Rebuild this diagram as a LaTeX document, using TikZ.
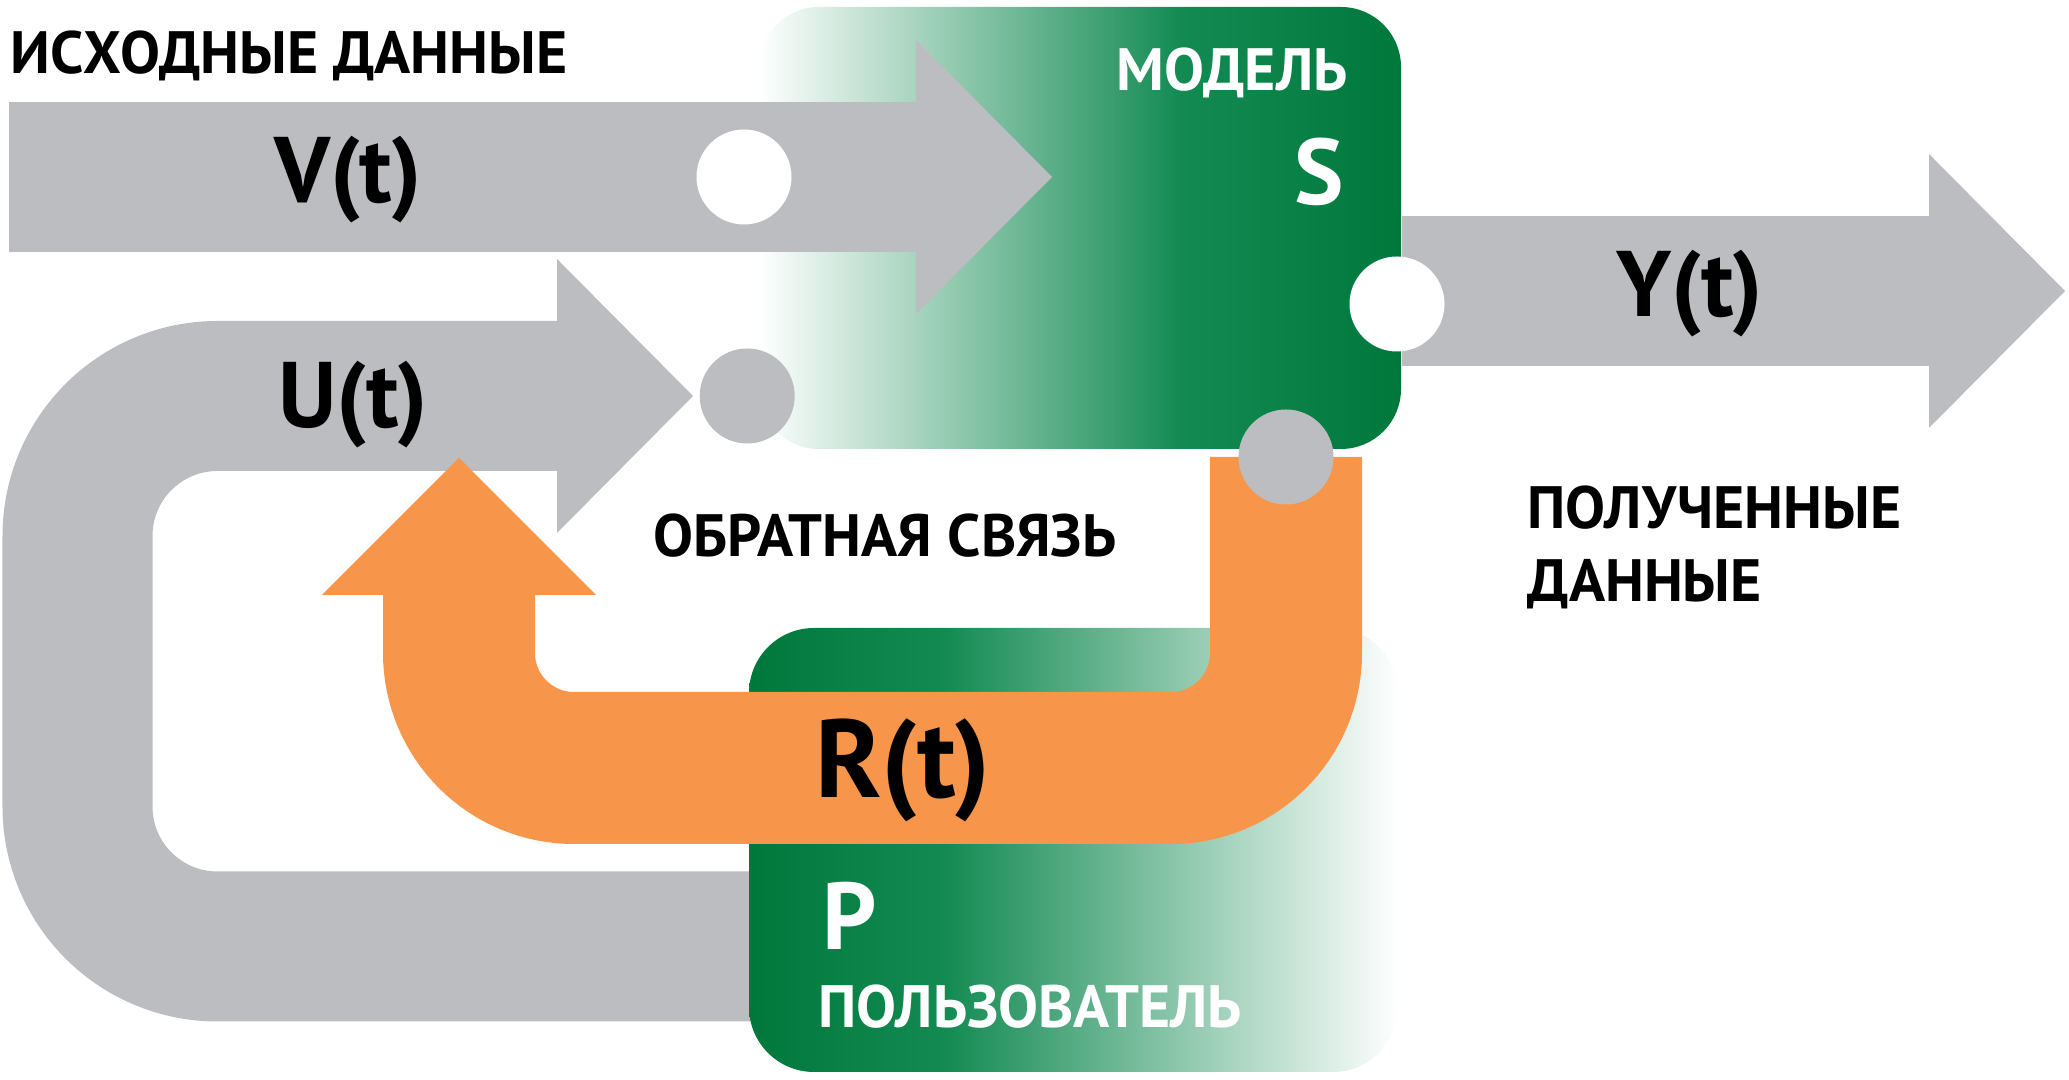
\documentclass[tikz,border=0pt]{standalone}
\usepackage{fontspec}
\setmainfont{PT Sans}
\usepackage{tikz}
\usetikzlibrary{arrows.meta,positioning}

\definecolor{dkgreen}{RGB}{0,120,60}
\definecolor{mgreen}{RGB}{18,138,82}
\definecolor{bargray}{RGB}{188,189,192}
\definecolor{fborange}{RGB}{247,150,74}

\pgfdeclarehorizontalshading{modelfade}{100bp}{color(0bp)=(white); color(25bp)=(white); color(58bp)=(mgreen); color(75bp)=(dkgreen); color(100bp)=(dkgreen)}
\pgfdeclarehorizontalshading{userfade}{100bp}{color(0bp)=(dkgreen); color(25bp)=(dkgreen); color(40bp)=(mgreen); color(75bp)=(white); color(100bp)=(white)}

\tikzset{
  graybar/.style={line width=1.5cm, draw=bargray, -{Triangle[length=1.36cm,width=2.74cm,line width=0pt]}},
  orangebar/.style={line width=1.52cm, draw=fborange, -{Triangle[length=1.37cm,width=2.74cm,line width=0pt]}},
  port/.style={circle, fill=white, minimum size=0.95cm, inner sep=0pt},
  modelbox/.style={rectangle, rounded corners=0.6cm, shading=modelfade, minimum width=6.42cm, minimum height=4.42cm},
  userbox/.style={rectangle, rounded corners=0.65cm, shading=userfade, minimum width=6.49cm, minimum height=4.44cm},
  lbl/.style={inner sep=0pt, font=\fontsize{17}{20}\selectfont\bfseries},
  biglbl/.style={inner sep=0pt, font=\fontsize{26.5}{31}\selectfont\bfseries},
  boxlbl/.style={lbl, text=white},
  boxbig/.style={biglbl, text=white}
}

\begin{document}
\begin{tikzpicture}
	\useasboundingbox (0,0) rectangle (20.69,10.80);

	% model S
	\node[modelbox] (model) at (10.80,8.52) {};

	% input V(t)
	\coordinate (vsrc) at (0.09,9.03);
	\coordinate (vtip) at (10.52,9.03);
	\draw[graybar] (vsrc) -- (vtip);
	\node[port] (vin) at (7.44,9.03) {};

	% output Y(t)
	\coordinate (ytip) at (20.65,7.89);
	\draw[graybar] (model.east |- ytip) -- (ytip);
	\node[port] (yout) at (13.97,7.76) {};

	% control U(t)
	\coordinate (usrc) at (9.00,1.335);
	\coordinate (utip) at (6.93,6.84);
	\draw[graybar, rounded corners=1.4cm] (usrc) -| (0.775,6.84) -- (utip);

	% user P
	\node[userbox] (user) at (10.735,2.30) {};

	% feedback R(t)
	\coordinate (rsrc) at (12.86,6.23);
	\coordinate (rtip) at (4.59,6.22);
	\draw[orangebar, rounded corners=1.15cm] (rsrc) |- (4.59,3.12) -- (rtip);

	\node[port, fill=bargray, right=0.06cm of utip] (uin) {};
	\node[port, fill=bargray] (rout) at (rsrc) {};

	% labels
	\node[lbl, anchor=base west] (srctxt) at (0.10,10.06) {ИСХОДНЫЕ ДАННЫЕ};
	\node[biglbl, anchor=base] (vlbl) at (3.48,8.77) {V(t)};
	\node[biglbl, anchor=base] (ulbl) at (3.53,6.52) {U(t)};
	\node[biglbl, anchor=base] (ylbl) at (16.90,7.63) {Y(t)};
	\node[biglbl, font=\fontsize{31.5}{37}\selectfont\bfseries, anchor=base] (rlbl) at (9.03,2.82) {R(t)};
	\node[boxlbl, anchor=base east] (modeltxt) at (13.48,9.89) {МОДЕЛЬ};
	\node[boxbig, anchor=base east] (slbl) at (13.45,8.75) {S};
	\node[boxbig, font=\fontsize{27}{31}\selectfont\bfseries, anchor=base west] (plbl) at (8.22,1.30) {P};
	\node[boxlbl, anchor=base west] (usertxt) at (8.18,0.52) {ПОЛЬЗОВАТЕЛЬ};
	\node[lbl, anchor=base west] (fbtxt) at (6.53,5.23) {ОБРАТНАЯ СВЯЗЬ};
	\node[lbl, anchor=base west] (outtxt) at (15.27,5.51) {ПОЛУЧЕННЫЕ};
	\node[lbl, anchor=base west] (outtxt2) at (15.27,4.78) {ДАННЫЕ};

\end{tikzpicture}
\end{document}
